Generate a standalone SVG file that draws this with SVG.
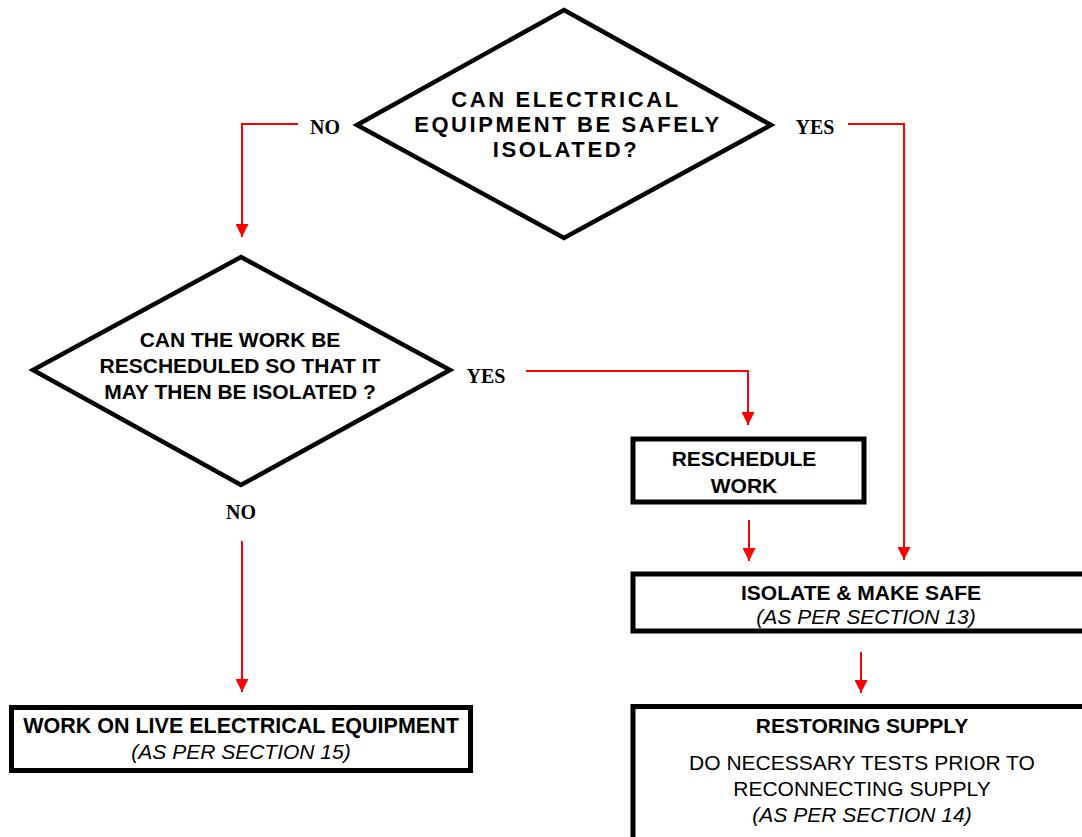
<svg xmlns="http://www.w3.org/2000/svg" width="1082" height="837" viewBox="0 0 1082 837">
<defs>
<marker id="ah" markerUnits="userSpaceOnUse" markerWidth="13" markerHeight="13" refX="13" refY="6.5" orient="auto">
<path d="M0,0 L13,6.5 L0,13 z" fill="#ff0000"/>
</marker>
<style>
.shape{fill:#fff;stroke:#000;stroke-width:4.5}
.box{stroke-width:5}
.con{fill:none;stroke:#ff0000;stroke-width:2;marker-end:url(#ah)}
.b{font-family:"Liberation Sans",Arial,sans-serif;font-weight:bold;font-size:21px;fill:#000;text-anchor:middle}
.r{font-family:"Liberation Sans",Arial,sans-serif;font-size:21px;fill:#000;text-anchor:middle}
.i{font-family:"Liberation Sans",Arial,sans-serif;font-style:italic;font-size:21px;fill:#000;text-anchor:middle}
.lbl{font-family:"Liberation Serif","Times New Roman",serif;font-weight:bold;font-size:20px;fill:#000;text-anchor:middle}
.sp{letter-spacing:2.6px}
</style>
</defs>
<rect width="1082" height="837" fill="#fff"/>
<g id="connectors">
<polyline class="con" points="298,124 242,124 242,237"/>
<polyline class="con" points="848,124 904,124 904,560"/>
<polyline class="con" points="526,371 748,371 748,425"/>
<line class="con" x1="749" y1="520" x2="749" y2="561"/>
<line class="con" x1="861" y1="652" x2="861" y2="693"/>
<line class="con" x1="242" y1="541" x2="242" y2="692"/>
</g>
<g id="labels">
<text class="lbl" x="325" y="134">NO</text>
<text class="lbl" x="815" y="134">YES</text>
<text class="lbl" x="486" y="383">YES</text>
<text class="lbl" x="241" y="519">NO</text>
</g>
<g id="decision1">
<polygon class="shape" points="564,10 771,125 564,238 357,125"/>
<text class="b sp" x="566" y="107" style="font-size:22px">CAN ELECTRICAL</text>
<text class="b sp" x="568" y="132" style="font-size:22px">EQUIPMENT BE SAFELY</text>
<text class="b sp" x="566" y="157" style="font-size:22px">ISOLATED?</text>
</g>
<g id="decision2">
<polygon class="shape" points="241,257 450,370 241,485 33,370"/>
<text class="b" x="240" y="347">CAN THE WORK BE</text>
<text class="b" x="240" y="373">RESCHEDULED SO THAT IT</text>
<text class="b" x="240" y="399">MAY THEN BE ISOLATED ?</text>
</g>
<g id="reschedule">
<rect class="shape box" x="633" y="439" width="231" height="63"/>
<text class="b" x="744" y="466">RESCHEDULE</text>
<text class="b" x="744" y="493">WORK</text>
</g>
<g id="isolate">
<rect class="shape box" x="633" y="574" width="470" height="57"/>
<text class="b" x="861" y="600">ISOLATE &amp; MAKE SAFE</text>
<text class="i" x="866" y="624">(AS PER SECTION 13)</text>
</g>
<g id="restoring">
<rect class="shape box" x="633" y="706.5" width="470" height="160"/>
<text class="b" x="862" y="733">RESTORING SUPPLY</text>
<text class="r" x="862" y="770">DO NECESSARY TESTS PRIOR TO</text>
<text class="r" x="862" y="796">RECONNECTING SUPPLY</text>
<text class="i" x="862" y="822">(AS PER SECTION 14)</text>
</g>
<g id="live">
<rect class="shape box" x="11.5" y="707.5" width="459" height="63"/>
<text class="b" x="241" y="733" style="font-size:21.5px">WORK ON LIVE ELECTRICAL EQUIPMENT</text>
<text class="i" x="241" y="759">(AS PER SECTION 15)</text>
</g>
</svg>
